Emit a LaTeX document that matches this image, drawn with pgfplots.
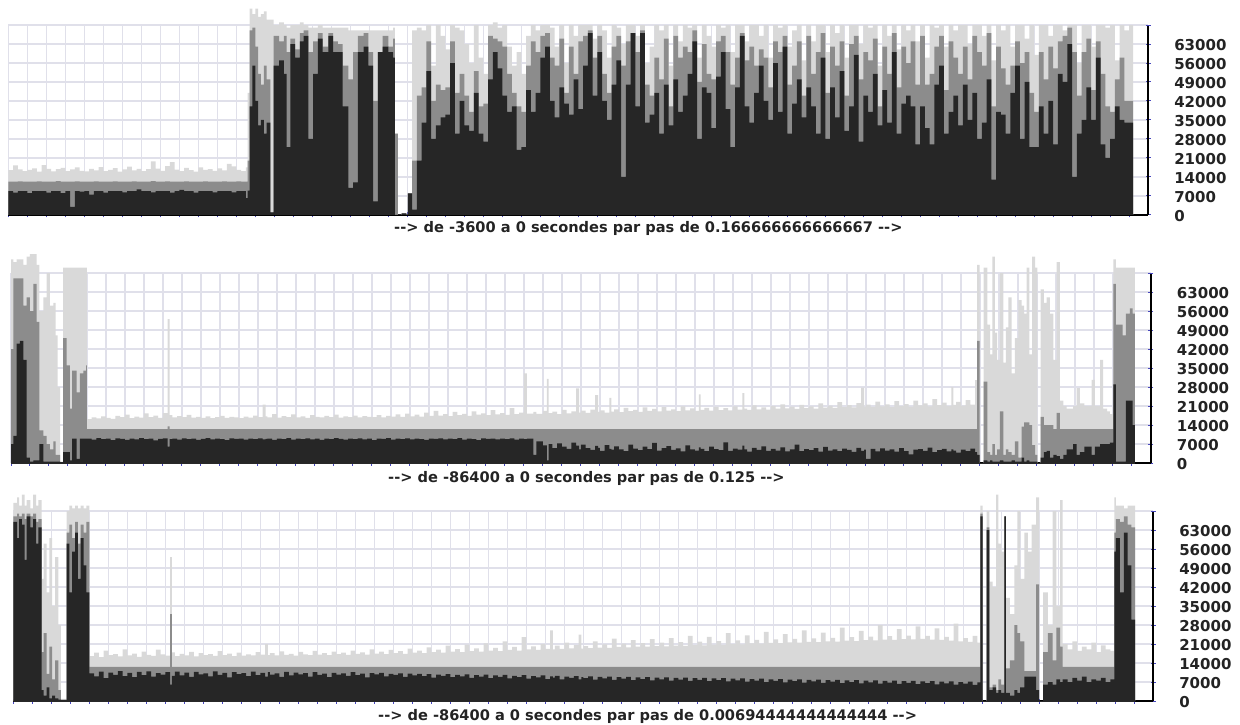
\documentclass[border=0pt]{standalone}
\usepackage{pgfplots}
\pgfplotsset{compat=1.18}
\usepackage{pgfplotstable}
\usepackage{fontspec}
\setmainfont{DejaVu Sans}
\definecolor{cL}{RGB}{217,217,217}
\definecolor{cM}{RGB}{140,140,140}
\definecolor{cD}{RGB}{38,38,38}
\definecolor{gridc}{RGB}{224,224,234}
\definecolor{tickc}{RGB}{70,70,190}
\definecolor{txt}{RGB}{35,35,35}

% values in thousands
\pgfplotstableread{
x L M D
0 16.5 12.3 8.8
0.25 18.3 12.3 8.2
0.5 16.8 12.4 8.8
0.75 16.2 12.3 8.8
1 16.6 12.3 8.1
1.25 17.2 12.3 8.8
1.5 16.0 12.4 8.8
1.75 18.4 12.3 8.8
2 17.0 12.3 8.2
2.25 16.1 12.3 8.8
2.5 16.9 12.5 8.8
2.75 17.4 12.3 8.1
3 16.2 12.3 8.8
3.25 16.8 12.3 3.0
3.5 17.5 12.4 8.8
3.75 16.3 12.3 8.6
4 16.1 12.3 8.8
4.25 17.0 12.3 7.5
4.5 16.4 12.4 8.8
4.75 17.6 12.3 8.8
5 16.2 12.3 8.2
5.25 16.6 12.3 8.8
5.5 17.3 12.4 8.8
5.75 16.0 12.3 8.8
6 16.8 12.3 8.3
6.25 17.8 12.3 8.8
6.5 16.4 12.4 8.8
6.75 17.0 12.3 9.4
7 16.2 12.3 8.8
7.25 16.9 12.3 8.8
7.5 19.8 12.5 8.3
7.75 17.1 12.3 8.8
8 16.3 12.3 8.8
8.25 18.0 12.4 8.8
8.5 19.5 12.3 8.2
8.75 16.7 12.3 8.8
9 16.2 12.3 9.3
9.25 17.4 12.4 8.8
9.5 16.5 12.3 8.8
9.75 16.0 12.3 8.2
10 17.5 12.3 8.8
10.25 16.6 12.4 8.8
10.5 16.9 12.3 8.8
10.75 16.3 12.3 8.3
11 17.2 12.3 8.8
11.25 16.4 12.4 8.8
11.5 18.8 12.3 8.8
11.75 17.9 12.3 8.3
12 16.6 12.4 8.8
12.25 16.2 12.3 8.8
12.5 17.5 12.3 6.2
12.6 45 20 9
12.7 76 68 40
12.85 74 69 55
13.0 76 62 42
13.15 73 52 33
13.3 74 48 35
13.45 75 55 30
13.6 72 50 34
13.8 72 1 1
13.97 70 66 55
14.25 71 64 57
14.5 70 66 52
14.65 69 60 25
14.85 70 65 63
15.1 70 61 58
15.35 71 67 64
15.55 70 68 66
15.8 69 60 28
16.05 69 64 52
16.3 70 67 65
16.55 69 62 60
16.85 69 67 66
17.1 69 64 60
17.35 69 63 60
17.6 69 55 40
17.9 68 50 10
18.15 68 60 12
18.4 68 66 60
18.7 68 67 62
18.95 68 60 55
19.2 68 42 5
19.45 68 60 60
19.7 68 66 62
20.0 68 62 60
20.25 69 65 58
20.35 30 30 0
20.5 0 0 0
20.7 0.6 0.6 0.6
20.95 0 0 0
21.03 8 8 8
21.25 68 20 2
21.5 69 44 20
21.75 68 47 34
22.0 70 64 53
22.25 55 42 28
22.5 70 48 33
22.75 66 46 36
23.0 61 47 37
23.25 70 64 56
23.5 69 45 30
23.75 68 52 42
24.0 63 44 33
24.25 56 38 31
24.5 70 53 45
24.75 58 40 30
25.0 52 41 27
25.25 70 66 50
25.5 71 65 60
25.75 69 64 54
26.0 70 62 44
26.25 62 52 38
26.5 55 45 40
26.75 60 40 24
27.0 52 38 25
27.25 66 55 46
27.5 70 64 38
27.75 68 60 45
28.0 70 66 58
28.25 70 67 62
28.5 69 58 42
28.75 62 55 36
29.0 70 65 47
29.25 56 45 41
29.5 70 62 37
29.75 66 52 50
30.0 70 64 39
30.25 70 66 55
30.5 70 68 67
30.75 65 58 44
31.0 70 66 60
31.25 68 52 42
31.5 58 45 35
31.75 70 62 48
32.0 69 66 57
32.25 63 55 14
32.5 70 64 48
32.75 70 67 67
33.0 66 60 40
33.25 70 68 67
33.5 56 48 34
33.75 62 44 37
34.0 70 58 45
34.25 68 50 30
34.5 70 65 48
34.75 55 40 33
35.0 70 66 50
35.25 64 58 38
35.5 70 62 44
35.75 69 60 52
36.0 70 68 64
36.25 58 49 28
36.5 70 63 47
36.75 66 52 45
37.0 62 50 32
37.25 70 64 51
37.5 69 66 60
37.75 70 60 39
38.0 60 48 25
38.25 70 58 47
38.5 70 67 66
38.75 64 57 40
39.0 70 62 34
39.25 70 55 45
39.5 66 61 55
39.75 70 58 42
40.0 58 47 35
40.25 70 64 56
40.5 69 60 38
40.75 70 66 62
41.0 62 48 30
41.25 68 55 41
41.5 70 64 50
41.75 57 44 36
42.0 70 66 47
42.25 64 52 40
42.5 70 60 30
42.75 70 67 58
43.0 60 45 28
43.25 70 62 47
43.5 67 55 36
43.75 70 64 53
44.0 58 44 31
44.25 70 63 40
44.5 70 66 59
44.75 63 50 27
45.0 70 60 44
45.25 69 57 38
45.5 70 65 52
45.75 55 40 33
46.0 70 62 46
46.25 66 52 34
46.5 70 67 60
46.75 61 47 30
47.0 70 62 41
47.25 68 56 44
47.5 70 64 40
47.75 64 48 26
48.0 70 66 40
48.25 58 48 32
48.5 70 52 26
48.75 69 62 48
49.0 70 66 55
49.25 62 46 30
49.5 70 64 38
49.75 68 58 44
50.0 70 52 33
50.25 70 62 48
50.5 63 50 35
50.75 70 66 45
51.0 70 60 28
51.25 66 55 34
51.5 70 67 50
51.75 57 40 13
52.0 70 62 38
52.25 68 54 37
52.5 70 48 30
52.75 62 55 45
53.0 70 64 55
53.25 70 56 28
53.5 65 60 49
53.75 70 45 25
54.0 59 38 25
54.25 70 60 40
54.5 70 50 30
54.75 66 62 42
55.0 70 54 26
55.25 70 64 52
55.5 68 66 49
55.75 70 69 63
56.0 70 60 14
56.25 56 44 30
56.5 70 60 35
56.75 70 65 47
57.0 62 46 35
57.25 70 64 58
57.5 70 52 26
57.75 69 40 21
58.0 70 38 28
58.25 57 50 40
58.5 70 58 35
58.75 68 42 34
59.0 70 42 34
59.2 70 42 34
}\tA

\pgfplotstableread{
x L M D
0 75 42 7
0.12 74 68 10
0.3 75 68 44
0.47 75 68 45
0.65 73 58 38
0.82 76 61 2
1.0 77 56 0.5
1.18 77 66 1
1.35 73 52 1
1.5 56 12 7
1.7 61 10 0.5
1.88 70 7 0.5
2.05 58 5 0.5
2.23 59 8 0.5
2.35 47 3 0.5
2.45 28 3 0.5
2.58 0.5 0.3 0.3
2.75 72 46 4
2.93 72 36 4
3.1 72 20 1
3.22 72 34 9
3.46 72 26 1.5
3.63 72 33 9
3.81 72 34 9
3.95 72 36 9
4.0 16.2 12.5 9.0
4.25 16.8 12.5 8.6
4.5 16.4 12.5 9.2
4.75 17.2 12.5 8.8
5.0 16.6 12.5 9.0
5.25 16.3 12.5 8.4
5.5 17.4 12.5 9.1
5.75 16.9 12.5 8.9
6.0 17.8 12.5 8.5
6.25 16.5 12.5 9.0
6.5 17.1 12.5 8.7
6.75 16.7 12.5 9.2
7.0 18.3 12.5 8.8
7.25 16.9 12.5 9.0
7.5 17.5 12.5 8.3
7.75 16.6 12.5 8.9
8.0 18.4 12.5 9.1
8.25 53.0 13.5 6.0
8.35 17.6 12.5 8.8
8.5 16.8 12.5 9.0
8.75 17.3 12.5 8.6
9.0 16.9 12.5 9.1
9.25 17.7 12.5 8.8
9.5 16.7 12.5 9.0
9.75 17.0 12.5 8.5
10.0 16.6 12.5 8.9
10.25 17.2 12.5 9.2
10.5 16.5 12.5 8.7
10.75 16.9 12.5 9.0
11.0 17.4 12.5 8.8
11.25 16.6 12.5 8.4
11.5 17.0 12.5 9.1
11.75 16.8 12.5 8.9
12.0 16.5 12.5 9.0
12.25 17.1 12.5 8.6
12.5 16.7 12.5 9.0
12.75 17.5 12.5 8.8
13.0 16.9 12.5 9.1
13.25 21.5 12.5 8.7
13.4 17.2 12.5 8.9
13.5 16.8 12.5 9.0
13.75 18.0 12.5 8.5
14.0 16.7 12.5 9.0
14.25 17.3 12.5 8.8
14.5 16.9 12.5 9.2
14.75 17.9 12.5 8.6
15.0 16.8 12.5 9.0
15.25 17.2 12.5 8.8
15.5 16.6 12.5 9.1
15.75 17.6 12.5 8.7
16.0 17.0 12.5 9.0
16.25 16.8 12.5 8.5
16.5 17.4 12.5 9.0
16.75 16.9 12.5 8.8
17.0 17.8 12.5 9.2
17.25 16.7 12.5 8.9
17.5 17.2 12.5 8.6
17.75 16.9 12.5 9.0
18.0 17.5 12.5 8.8
18.25 16.8 12.5 9.1
18.5 17.3 12.5 8.7
18.75 17.0 12.5 9.0
19.0 16.9 12.5 8.4
19.25 17.6 12.5 9.0
19.5 16.8 12.5 8.9
19.75 17.4 12.5 9.2
20.0 17.1 12.5 8.6
20.25 17.9 12.5 9.0
20.5 17.0 12.5 8.8
20.75 18.2 12.5 9.1
21.0 17.2 12.5 8.7
21.25 17.8 12.5 9.0
21.5 17.1 12.5 8.8
21.75 18.6 12.5 8.5
22.0 17.4 12.5 9.0
22.25 19.2 12.5 8.9
22.5 17.5 12.5 9.1
22.75 18.0 12.5 8.7
23.0 17.3 12.5 9.0
23.25 18.8 12.5 8.8
23.5 17.6 12.5 9.2
23.75 18.1 12.5 8.6
24.0 17.4 12.5 9.0
24.25 19.0 12.5 8.8
24.5 17.8 12.5 8.4
24.75 18.3 12.5 9.1
25.0 17.6 12.5 8.9
25.25 19.5 12.5 9.0
25.5 17.9 12.5 8.7
25.75 18.4 12.5 9.0
26.0 17.7 12.5 8.8
26.25 20.2 12.5 9.1
26.5 18.0 12.5 8.6
26.75 18.6 12.5 9.0
27.0 33.0 12.5 8.8
27.15 18.2 12.5 9.0
27.5 18.8 12.5 3.0
27.65 18.1 12.5 8.0
28.0 19.2 12.5 6.5
28.2 31.0 12.5 1.0
28.3 18.4 12.5 7.0
28.5 18.9 12.5 5.5
28.75 18.0 12.5 7.2
29.0 19.6 12.5 6.0
29.25 18.3 12.5 5.2
29.5 19.0 12.5 7.5
29.75 27.5 12.5 6.4
29.9 18.6 12.5 5.0
30.0 19.3 12.5 6.8
30.25 18.5 12.5 5.5
30.5 19.7 12.5 4.8
30.75 25.0 12.5 6.3
30.9 18.8 12.5 5.6
31.0 19.4 12.5 4.5
31.25 18.6 12.5 6.6
31.5 24.0 12.5 5.2
31.6 18.9 12.5 4.9
31.75 19.8 12.5 6.1
32.0 18.7 12.5 5.0
32.25 20.3 12.5 4.4
32.5 19.1 12.5 6.8
32.75 19.6 12.5 5.3
33.0 18.8 12.5 4.7
33.25 20.5 12.5 6.0
33.5 19.2 12.5 5.1
33.75 19.9 12.5 7.4
34.0 19.0 12.5 4.6
34.25 20.6 12.5 5.5
34.5 19.3 12.5 6.2
34.75 19.8 12.5 4.8
35.0 19.1 12.5 5.4
35.25 20.9 12.5 4.3
35.5 19.4 12.5 6.5
35.75 20.1 12.5 5.0
36.0 19.2 12.5 4.6
36.2 25.3 12.5 5.8
36.3 19.6 12.5 5.2
36.5 20.3 12.5 4.4
36.75 19.3 12.5 6.0
37.0 20.7 12.5 5.1
37.25 19.5 12.5 4.7
37.5 20.2 12.5 7.6
37.75 19.4 12.5 4.5
38.0 20.9 12.5 5.3
38.25 19.7 12.5 4.9
38.5 25.7 12.5 6.4
38.6 20.0 12.5 5.0
38.75 19.6 12.5 4.2
39.0 21.2 12.5 5.6
39.25 19.8 12.5 4.8
39.5 20.5 12.5 6.1
39.75 19.7 12.5 4.5
40.0 21.0 12.5 5.2
40.25 20.0 12.5 4.6
40.5 21.6 12.5 5.8
40.75 20.1 12.5 4.3
41.0 20.8 12.5 5.0
41.25 19.9 12.5 6.8
41.5 21.4 12.5 4.4
41.75 20.2 12.5 5.1
42.0 20.9 12.5 4.7
42.25 20.0 12.5 5.5
42.5 22.0 12.5 4.2
42.75 20.4 12.5 5.9
43.0 21.1 12.5 4.6
43.25 20.3 12.5 5.0
43.5 22.4 12.5 4.4
43.75 20.6 12.5 5.3
44.0 21.3 12.5 4.8
44.25 20.5 12.5 4.1
44.5 22.1 12.5 5.6
44.75 27.8 12.5 4.5
44.9 20.8 12.5 4.9
45.0 21.5 12.5 1.5
45.25 20.7 12.5 5.2
45.5 22.6 12.5 4.3
45.75 20.9 12.5 5.4
46.0 21.6 12.5 4.6
46.25 20.6 12.5 5.0
46.5 22.8 12.5 4.2
46.75 21.0 12.5 5.5
47.0 21.7 12.5 4.4
47.25 20.8 12.5 3.2
47.5 23.0 12.5 4.9
47.75 21.2 12.5 5.1
48.0 22.0 12.5 4.5
48.25 20.9 12.5 5.7
48.5 23.5 12.5 4.0
48.75 21.3 12.5 4.7
49.0 22.2 12.5 5.2
49.25 21.0 12.5 4.3
49.5 28.0 12.5 5.0
49.6 21.4 12.5 4.6
49.75 22.5 12.5 3.8
50.0 21.1 12.5 4.9
50.25 23.2 12.5 4.4
50.5 21.5 12.5 5.3
50.75 30.5 12.5 4.0
50.85 73 45 3
50.98 0 0 0
51.2 72 30 1
51.39 51 4 0.5
51.53 40 3 1
51.65 76 7 0.5
51.79 48 3 0.5
51.91 38 5 0.5
52.05 70 19 1
52.23 37 3 0.5
52.37 50 5 0.5
52.49 61 4 0.5
52.67 33 3 1
52.84 46 8 0.5
53.02 60 2 0.5
53.19 58 13.4 2
53.32 55 15 0.5
53.46 72 15 1
53.6 40 14 0.5
53.74 76 6.6 0.5
53.9 72 3 0.5
54.02 0 0 0
54.2 64 17 2
54.37 59 14 4
54.51 61 14 4.5
54.68 55 14 2
54.86 38 12.5 3
55.04 74 18.5 2.5
55.21 23 12.5 1.5
55.39 21 12.5 3
55.56 20 12.5 5
55.91 21 12.5 7
56.09 27.6 12.5 3
56.26 22 12.5 4
56.5 21 12.5 6
56.88 30.6 12.5 3
57.05 21 12.5 6
57.32 38 12.5 7
57.49 20 12.5 7
57.7 19 12.5 7
57.84 18 12.5 7.5
58.02 75 66 29
58.16 72 51 0.5
58.3 72 51 0.5
58.51 72 47 0.5
58.68 72 55 23
58.89 72 57 23
59.04 72 55 14
59.16 72 55 14
}\tB

\pgfplotstableread{
x L M D
0 73 68 66
0.2 75 69 60
0.3 72 68 67
0.45 76 69 65
0.6 72 67 52
0.7 74 69 68
0.9 71 68 64
1.05 76 69 67
1.2 72 66 58
1.32 74 67 64
1.49 45 18 4
1.6 58 25 2
1.75 40 10 5
1.9 60 20 1
2.05 35 8 2
2.2 53 15 1
2.37 28 4 0.5
2.5 0.8 0.5 0.3
2.81 70 62 58
2.95 72 65 40
3.1 71 60 55
3.25 72 66 62
3.4 71 58 45
3.55 72 65 60
3.7 71 62 50
3.85 72 66 40
4.0 16.5 12.6 10.2
4.25 17.8 12.6 9.1
4.5 16.2 12.6 10.8
4.75 18.6 12.6 8.4
5.0 16.9 12.6 10.5
5.25 17.3 12.6 9.6
5.5 16.4 12.6 11.0
5.75 19.0 12.6 9.2
6.0 16.8 12.6 10.4
6.25 17.5 12.6 8.8
6.5 16.3 12.6 10.7
6.75 18.2 12.6 9.5
7.0 17.0 12.6 10.9
7.25 16.6 12.6 9.0
7.5 18.9 12.6 10.3
7.75 17.2 12.6 9.7
8.0 16.7 12.6 10.6
8.25 53.0 32.0 6.0
8.35 17.9 12.6 9.3
8.5 16.5 12.6 10.8
8.75 17.4 12.6 9.4
9.0 16.8 12.6 10.5
9.25 18.1 12.6 8.9
9.5 16.4 12.6 10.7
9.75 17.6 12.6 9.8
10.0 16.9 12.6 10.2
10.25 17.3 12.6 9.1
10.5 16.6 12.6 10.9
10.75 18.4 12.6 9.6
11.0 16.9 12.6 10.4
11.25 17.5 12.6 8.7
11.5 16.5 12.6 10.6
11.75 17.8 12.6 9.9
12.0 16.7 12.6 10.3
12.25 17.2 12.6 9.2
12.5 16.8 12.6 10.8
12.75 18.0 12.6 9.5
13.0 17.1 12.6 10.4
13.25 21.0 12.6 9.0
13.4 16.9 12.6 10.6
13.5 17.6 12.6 9.7
13.75 16.8 12.6 10.2
14.0 18.3 12.6 8.9
14.25 17.0 12.6 10.7
14.5 17.4 12.6 9.4
14.75 16.7 12.6 10.5
15.0 18.1 12.6 9.8
15.25 17.2 12.6 10.3
15.5 16.9 12.6 9.0
15.75 18.5 12.6 10.6
16.0 17.1 12.6 9.6
16.25 17.6 12.6 10.1
16.5 16.9 12.6 8.8
16.75 18.2 12.6 10.4
17.0 17.3 12.6 9.7
17.25 17.8 12.6 10.2
17.5 17.0 12.6 9.3
17.75 18.6 12.6 10.6
18.0 17.4 12.6 9.5
18.25 17.9 12.6 10.1
18.5 17.1 12.6 8.7
18.75 19.0 12.6 10.3
19.0 17.5 12.6 9.8
19.25 18.2 12.6 10.4
19.5 17.3 12.6 9.1
19.75 18.8 12.6 10.0
20.0 17.6 12.6 9.6
20.25 18.4 12.6 10.2
20.5 17.4 12.6 8.9
20.75 19.3 12.6 10.1
21.0 17.8 12.6 9.4
21.25 18.6 12.6 10.0
21.5 17.6 12.6 9.2
21.75 19.8 12.6 9.9
22.0 18.0 12.6 8.6
22.25 18.9 12.6 9.7
22.5 17.8 12.6 9.3
22.75 20.4 12.6 9.9
23.0 18.2 12.6 8.8
23.25 19.1 12.6 9.6
23.5 18.0 12.6 9.1
23.75 20.8 12.6 9.8
24.0 18.4 12.6 8.5
24.25 19.4 12.6 9.5
24.5 18.2 12.6 9.0
24.75 21.2 12.6 9.7
25.0 18.6 12.6 8.4
25.25 19.6 12.6 9.4
25.5 18.4 12.6 8.9
25.75 22.0 12.6 9.6
26.0 18.8 12.6 8.3
26.25 19.9 12.6 9.3
26.5 18.6 12.6 8.8
26.75 23.5 12.6 9.5
27.0 19.0 12.6 8.2
27.25 20.1 12.6 9.2
27.5 18.8 12.6 8.7
27.75 21.0 12.6 9.4
28.0 19.2 12.6 8.1
28.25 26.0 12.6 9.1
28.4 19.0 12.6 8.6
28.5 20.4 12.6 9.3
28.75 19.2 12.6 8.0
29.0 21.5 12.6 9.0
29.25 19.4 12.6 8.5
29.5 20.6 12.6 9.2
29.75 24.5 12.6 8.0
29.9 19.3 12.6 8.8
30.0 20.2 12.6 8.4
30.25 19.5 12.6 9.1
30.5 22.0 12.6 7.9
30.75 19.7 12.6 8.9
31.0 20.9 12.6 8.3
31.25 19.6 12.6 9.0
31.5 23.0 12.6 7.8
31.75 19.9 12.6 8.8
32.0 21.1 12.6 8.2
32.25 19.8 12.6 8.9
32.5 22.4 12.6 7.7
32.75 20.0 12.6 8.7
33.0 21.3 12.6 8.1
33.25 20.0 12.6 8.8
33.5 22.8 12.6 7.6
33.75 20.2 12.6 8.6
34.0 21.5 12.6 8.0
34.25 20.1 12.6 8.7
34.5 23.2 12.6 7.5
34.75 20.4 12.6 8.5
35.0 21.7 12.6 7.9
35.25 20.3 12.6 8.6
35.5 24.0 12.6 7.4
35.75 20.6 12.6 8.4
36.0 21.9 12.6 7.8
36.25 20.5 12.6 8.5
36.5 23.6 12.6 7.3
36.75 20.8 12.6 8.3
37.0 22.1 12.6 7.7
37.25 20.7 12.6 8.4
37.5 25.0 12.6 7.2
37.75 21.0 12.6 8.2
38.0 22.3 12.6 7.6
38.25 20.9 12.6 8.3
38.5 24.2 12.6 7.1
38.75 21.2 12.6 8.1
39.0 22.5 12.6 7.5
39.25 21.1 12.6 8.2
39.5 25.5 12.6 7.0
39.75 21.4 12.6 8.0
40.0 22.7 12.6 7.4
40.25 21.3 12.6 8.1
40.5 24.6 12.6 6.9
40.75 21.6 12.6 7.9
41.0 22.9 12.6 7.3
41.25 21.5 12.6 8.0
41.5 26.0 12.6 6.8
41.75 21.8 12.6 7.8
42.0 23.1 12.6 7.2
42.25 21.7 12.6 7.9
42.5 25.2 12.6 6.7
42.75 22.0 12.6 7.7
43.0 23.3 12.6 7.1
43.25 21.9 12.6 7.8
43.5 27.0 12.6 6.6
43.75 22.2 12.6 7.6
44.0 23.5 12.6 7.0
44.25 22.1 12.6 7.7
44.5 25.8 12.6 6.5
44.75 22.4 12.6 7.5
45.0 23.7 12.6 6.9
45.25 22.3 12.6 7.6
45.5 28.0 12.6 6.4
45.75 22.6 12.6 7.4
46.0 23.9 12.6 6.8
46.25 22.5 12.6 7.5
46.5 26.5 12.6 6.3
46.75 22.8 12.6 7.3
47.0 24.1 12.6 6.7
47.25 22.7 12.6 7.4
47.5 27.5 12.6 6.2
47.75 22.9 12.6 7.2
48.0 24.0 12.6 6.6
48.25 22.6 12.6 7.3
48.5 26.8 12.6 6.1
48.75 22.5 12.6 7.1
49.0 23.6 12.6 6.5
49.25 22.2 12.6 7.2
49.5 28.5 12.6 6.0
49.75 22.0 12.6 7.0
50.0 23.2 12.6 6.4
50.25 21.8 12.6 7.1
50.5 24.0 12.6 5.9
50.75 21.5 12.6 6.9
50.9 72 69 68
51.02 0 0 0
51.23 70 64 63
51.37 44 5 4
51.55 42 6 5
51.73 76 4 3
51.85 58 8 4
52.0 55 6 3
52.16 68 68 68
52.25 38 12 3
52.45 32 15 2
52.69 50 28 4
52.85 70 25 3
53.0 45 22 5
53.22 62 11 9
53.4 55 11 9
53.6 65 11 9
53.83 75 43 4
54.0 0 0 0
54.2 40 18 6
54.45 28 25 7
54.7 70 15 6
54.9 35 27 8
55.1 74 20 7
55.23 21 12.6 8
55.5 19 12.6 7
55.75 22 12.6 8.5
56.0 18.5 12.6 7.5
56.25 20 12.6 9
56.5 19 12.6 7
56.75 21.5 12.6 8
57.0 18 12.6 7.5
57.25 20.5 12.6 8.5
57.5 19 12.6 7
57.75 18.5 12.6 8
57.95 75 62 55
58.04 72 67 60
58.25 72 66 40
58.45 71 68 62
58.65 72 65 50
58.85 72 64 30
59.05 72 64 30
}\tC

\pgfplotsset{
  panel/.style={
    scale only axis, width=1140pt, height=190pt,
    xmin=0, xmax=60, ymin=0, ymax=70000, clip=false,
    axis x line*=bottom, axis y line*=right,
    axis line style={-, line width=1.5pt, black},
    xtick={0,...,59}, xticklabels={},
    ytick={0,7000,...,63000},
    extra y ticks={70000}, extra y tick labels={},
    extra y tick style={grid=major},
    grid=major, grid style={gridc, line width=1.2pt},
    tick style={tickc, line width=1pt}, major tick length=5pt, tick align=center,
    scaled y ticks=false,
    /pgf/number format/1000 sep={}, /pgf/number format/assume math mode=true,
    yticklabel style={font=\fontsize{15}{18}\selectfont\bfseries, text=txt, anchor=west, xshift=20pt, yshift=-1.5pt},
  },
  bL/.style={const plot, fill=cL, draw=none},
  bM/.style={const plot, fill=cM, draw=none},
  bD/.style={const plot, fill=cD, draw=none},
}
\newcommand\captxt[1]{\fontsize{14.6}{17}\selectfont\bfseries #1}

\begin{document}
\begin{tikzpicture}[x=1pt,y=1pt]
\useasboundingbox (0,0) rectangle (1240,724);

\begin{axis}[panel, at={(8.3pt,509pt)}, anchor=south west]
\addplot[bL] table[x=x, y expr=\thisrow{L}*1000] {\tA} \closedcycle;
\addplot[bM] table[x=x, y expr=\thisrow{M}*1000] {\tA} \closedcycle;
\addplot[bD] table[x=x, y expr=\thisrow{D}*1000] {\tA} \closedcycle;
\end{axis}
\node[anchor=west, text=txt, inner sep=0pt] at (394,496) {\captxt{-{}-> de -3600 a 0 secondes par pas de 0.166666666666667 -{}->}};

\begin{axis}[panel, at={(11pt,261pt)}, anchor=south west]
\addplot[bL] table[x=x, y expr=\thisrow{L}*1000] {\tB} \closedcycle;
\addplot[bM] table[x=x, y expr=\thisrow{M}*1000] {\tB} \closedcycle;
\addplot[bD] table[x=x, y expr=\thisrow{D}*1000] {\tB} \closedcycle;
\end{axis}
\node[anchor=west, text=txt, inner sep=0pt] at (388,246) {\captxt{-{}-> de -86400 a 0 secondes par pas de 0.125 -{}->}};

\begin{axis}[panel, at={(13.3pt,23pt)}, anchor=south west]
\addplot[bL] table[x=x, y expr=\thisrow{L}*1000] {\tC} \closedcycle;
\addplot[bM] table[x=x, y expr=\thisrow{M}*1000] {\tC} \closedcycle;
\addplot[bD] table[x=x, y expr=\thisrow{D}*1000] {\tC} \closedcycle;
\end{axis}
\node[anchor=west, text=txt, inner sep=0pt] at (378,8) {\captxt{-{}-> de -86400 a 0 secondes par pas de 0.00694444444444444 -{}->}};
\end{tikzpicture}
\end{document}
